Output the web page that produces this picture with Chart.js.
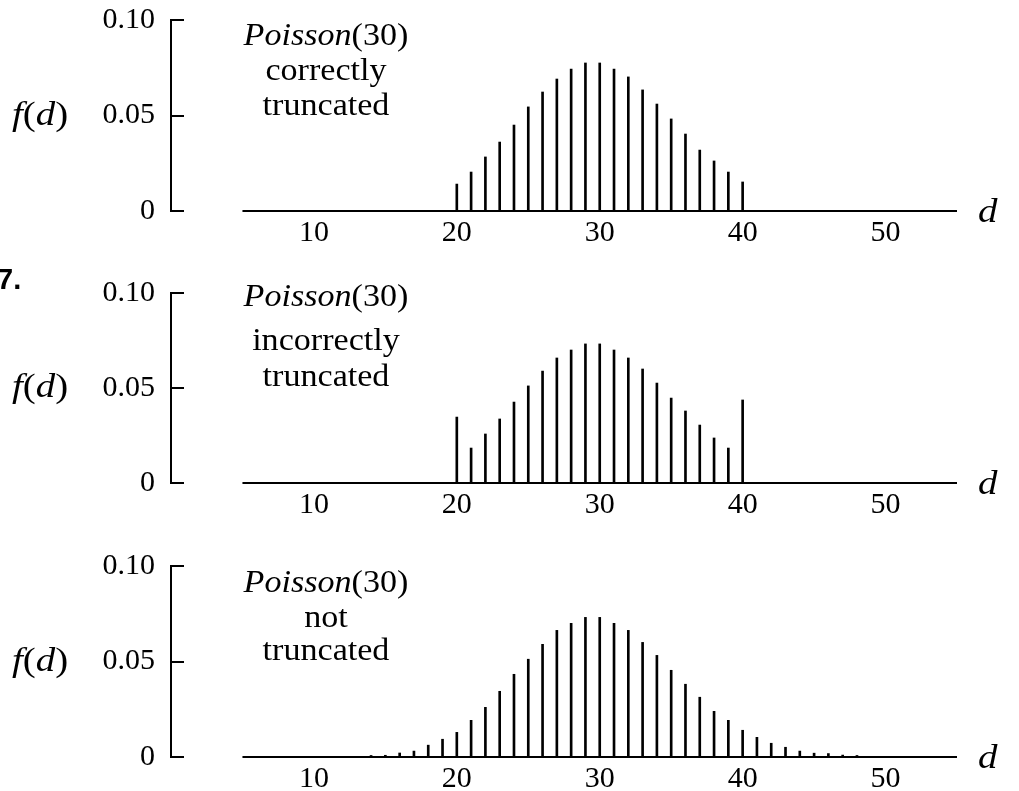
<!DOCTYPE html>
<html>
<head>
<meta charset="utf-8">
<script src="https://cdn.jsdelivr.net/npm/chart.js@4.4.1/dist/chart.umd.min.js"></script>
<style>
  body { margin: 0; background: #fff; }
  #page { position: relative; width: 1019px; height: 791px; overflow: hidden; font-family: "Liberation Serif", serif; color: #000; }
  #page canvas { position: absolute; left: 0; top: -100px; }
  .txt { position: absolute; width: 300px; text-align: center; font-size: 31px; line-height: 1; white-space: nowrap; transform: scaleX(1.1); }
  .fd { position: absolute; font-size: 33px; line-height: 1; white-space: nowrap; transform: scaleX(1.18); transform-origin: left center; }
  .num { position: absolute; font-family: "Liberation Sans", sans-serif; font-weight: bold; font-size: 29px; line-height: 1; }
</style>
</head>
<body>
<div id="page">
  <canvas id="c1" width="1019" height="1000"></canvas>
  <canvas id="c2" width="1019" height="1000"></canvas>
  <canvas id="c3" width="1019" height="1000"></canvas>
</div>
<script>
// values
const correctD = [20, 21, 22, 23, 24, 25, 26, 27, 28, 29, 30, 31, 32, 33, 34, 35, 36, 37, 38, 39, 40];
const correctF = [0.0141, 0.0204, 0.0283, 0.0361, 0.0450, 0.0545, 0.0623, 0.0691, 0.0743, 0.0775, 0.0775,
                  0.0743, 0.0702, 0.0634, 0.0560, 0.0482, 0.0403, 0.0319, 0.0262, 0.0204, 0.0152];

const incorrectD = [20, 21, 22, 23, 24, 25, 26, 27, 28, 29, 30, 31, 32, 33, 34, 35, 36, 37, 38, 39, 40];
const incorrectF = [0.0347, 0.0184, 0.0258, 0.0337, 0.0426, 0.0511, 0.0589, 0.0658, 0.0700, 0.0732, 0.0732,
                    0.0700, 0.0658, 0.0600, 0.0526, 0.0447, 0.0379, 0.0305, 0.0237, 0.0184, 0.0437];

const fullD = [14, 15, 16, 17, 18, 19, 20, 21, 22, 23, 24, 25, 26, 27, 28, 29, 30, 31,
               32, 33, 34, 35, 36, 37, 38, 39, 40, 41, 42, 43, 44, 45, 46, 47, 48];
const fullF = [0.0008, 0.0009, 0.0021, 0.0031, 0.0062, 0.0093, 0.0129, 0.0192, 0.0260, 0.0344, 0.0433,
               0.0512, 0.0590, 0.0663, 0.0700, 0.0731, 0.0731, 0.0700, 0.0663, 0.0600, 0.0532, 0.0454,
               0.0381, 0.0313, 0.0239, 0.0192, 0.0140, 0.0103, 0.0072, 0.0051, 0.0031, 0.0020, 0.0018,
               0.0010, 0.0008];

const xTicks = [10, 20, 30, 40, 50];
const yTicks = [0, 0.05, 0.10];
const yTickLabels = ['0', '0.05', '0.10'];
const xLineRange = [5, 55];   // where the d axis line is drawn
const xRange = [0, 55];
const yRange = [0, 0.10];

const distName = 'Poisson';
const distParam = '(30)';
const panelNotes = [['correctly', 'truncated'], ['incorrectly', 'truncated'], ['not', 'truncated']];

// layout of the three panels (pixels on the page)
const panels = [
  { canvas: 'c1', d: correctD, f: correctF, top: 20, bottom: 211, base: [45, 80, 115] },
  { canvas: 'c2', d: incorrectD, f: incorrectF, top: 293, bottom: 483, base: [306, 350, 386] },
  { canvas: 'c3', d: fullD, f: fullF, top: 566, bottom: 757, base: [592, 627, 660] }
];
// canvases are bigger than the page and shifted up, so chart.js label padding never pushes the plot
const canvasH = 1000;
const shift = 100;
const serif = 'Liberation Serif';

function makeChart(p) {
  const stems = p.d.map((d, i) => ({ x: d, y: p.f[i] }));
  const axisLine = xLineRange.map(v => ({ x: v, y: 0 }));

  return new Chart(document.getElementById(p.canvas), {
    type: 'bar',
    data: {
      datasets: [
        {
          type: 'bar',
          data: stems,
          backgroundColor: '#000',
          borderWidth: 0,
          barThickness: 2
        },
        {
          type: 'line',
          data: axisLine,
          borderColor: '#000',
          borderWidth: 2,
          pointRadius: 0,
          clip: false
        }
      ]
    },
    options: {
      responsive: false,
      animation: false,
      layout: { padding: { top: p.top + shift, right: 62, left: 0, bottom: 0 } },
      plugins: { legend: { display: false }, tooltip: { enabled: false } },
      scales: {
        x: {
          type: 'linear',
          min: xRange[0],
          max: xRange[1],
          offset: false,
          grid: { display: false, offset: false },
          border: { display: false },
          afterBuildTicks: s => { s.ticks = xTicks.map(v => ({ value: v })); },
          afterFit: s => { s.height = canvasH - p.bottom - shift; },
          ticks: {
            color: '#000',
            font: { family: serif, size: 30, lineHeight: 1 },
            padding: -1,
            maxRotation: 0,
            autoSkip: false
          }
        },
        y: {
          type: 'linear',
          position: 'left',
          min: yRange[0],
          max: yRange[1],
          afterBuildTicks: s => { s.ticks = yTicks.map(v => ({ value: v })); },
          afterFit: s => { s.width = 171; },
          border: { display: true, color: '#000', width: 2 },
          grid: { display: true, drawOnChartArea: false, drawTicks: true, tickLength: -13, color: '#000', lineWidth: 2 },
          ticks: {
            color: '#000',
            font: { family: serif, size: 30 },
            padding: 29,
            callback: (v, i) => yTickLabels[i]
          }
        }
      }
    }
  });
}

const page = document.getElementById('page');

function addText(cls, html, left, top) {
  const el = document.createElement('div');
  el.className = cls;
  el.innerHTML = html;
  el.style.left = left + 'px';
  el.style.top = top + 'px';
  page.appendChild(el);
  return el;
}

panels.forEach((p, k) => {
  makeChart(p);
  // note block, centred near d = 11.4
  const lines = ['<i>' + distName + '</i>' + distParam].concat(panelNotes[k]);
  lines.forEach((t, j) => addText('txt', t, 326 - 150, p.base[j] - 26));
  // f(d) label next to the 0.05 tick
  const mid = p.top + (p.bottom - p.top) / 2;
  addText('fd', '<i>f</i>(<i>d</i>)', 12, mid + 10 - 28);
  // d label at right end of axis
  addText('fd', '<i>d</i>', 978, p.bottom + 12 - 28);
});

addText('num', '7.', -3, 265);
</script>
</body>
</html>
